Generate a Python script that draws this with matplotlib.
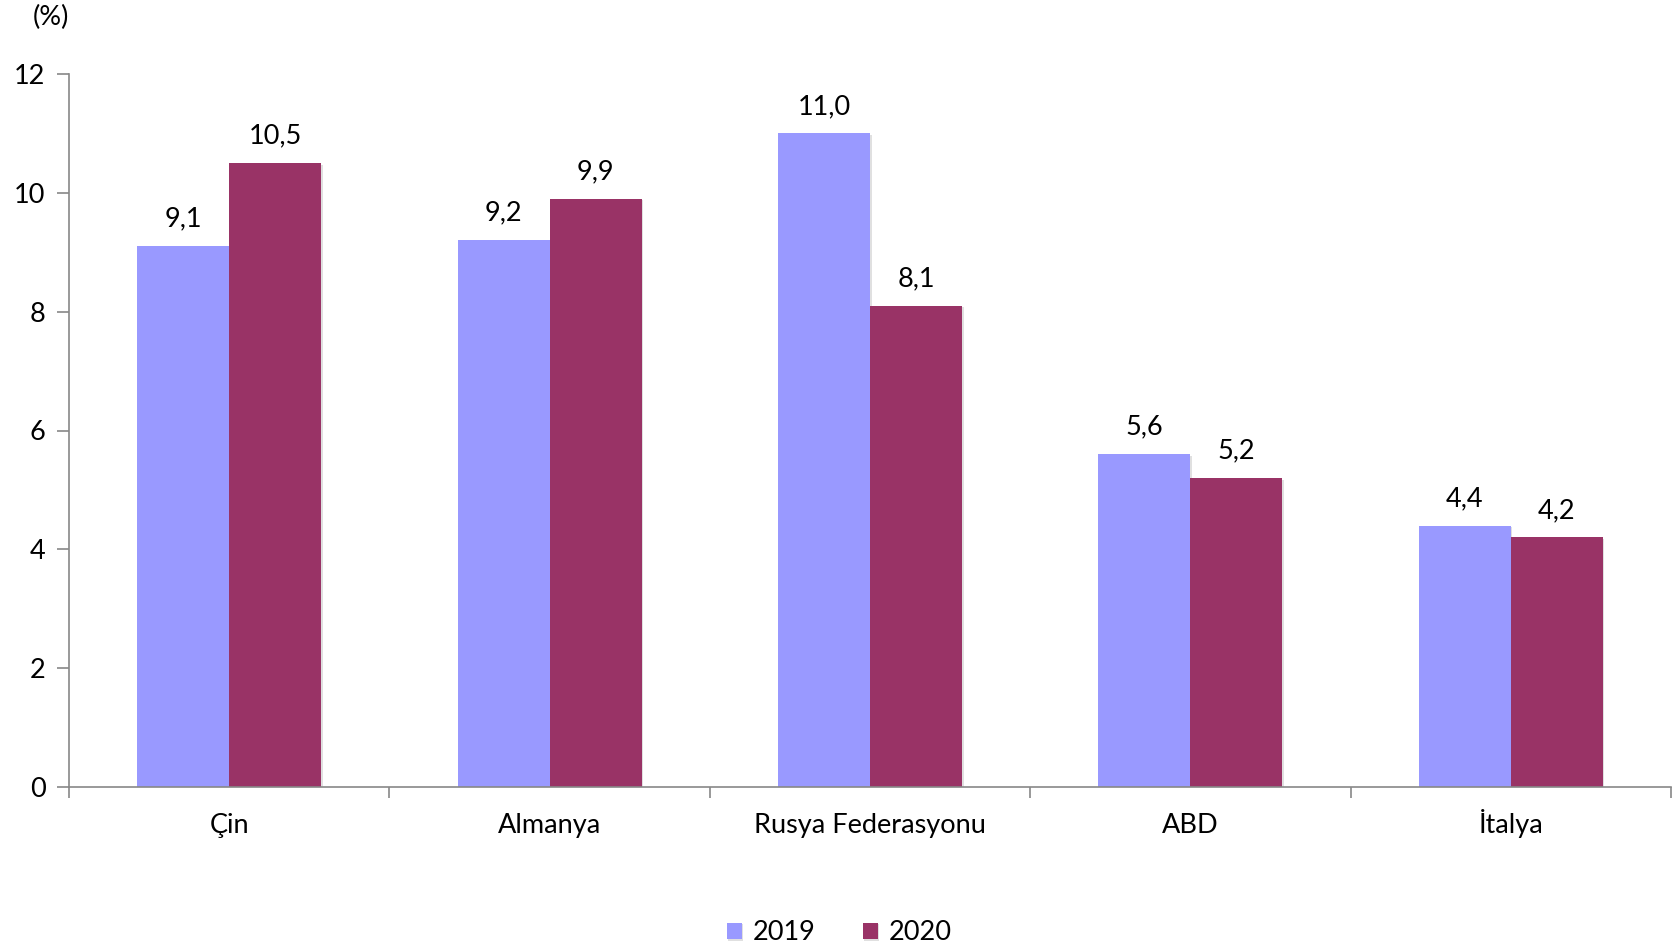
import matplotlib
matplotlib.use("Agg")
import matplotlib.pyplot as plt
import matplotlib.patheffects as pe
import numpy as np

categories = ["Çin", "Almanya", "Rusya Federasyonu", "ABD", "İtalya"]
values_2019 = [9.1, 9.2, 11.0, 5.6, 4.4]
values_2020 = [10.5, 9.9, 8.1, 5.2, 4.2]
series_labels = ["2019", "2020"]
colors = ["#9999FF", "#993366"]
yticks = [0, 2, 4, 6, 8, 10, 12]

plt.rcParams['font.family'] = ['Lato', 'DejaVu Sans']
FS = 19.5

fig = plt.figure(figsize=(16.74, 9.48), dpi=100)
ax = fig.add_axes([69/1674, 1-787/948, (1671-69)/1674, (787-74)/948])

x = np.arange(len(categories))
w = 0.287
shadow = [pe.SimplePatchShadow(offset=(1.2, -1.2), shadow_rgbFace="#000000", alpha=0.12), pe.Normal()]
b1 = ax.bar(x - w/2, values_2019, w, color=colors[0], label=series_labels[0], zorder=2)
b2 = ax.bar(x + w/2, values_2020, w, color=colors[1], label=series_labels[1], zorder=2)
for bars in (b1, b2):
    for p in bars:
        p.set_path_effects(shadow)

for xs, vals in ((x - w/2, values_2019), (x + w/2, values_2020)):
    for xi, v in zip(xs, vals):
        ax.annotate(f"{v:.1f}".replace(".", ","), (xi, v), xytext=(0, 10.5), textcoords="offset points",
                    ha="center", va="bottom", fontsize=FS, color="black")

ax.set_xlim(-0.5, len(categories) - 0.5)
ax.set_ylim(0, 12)
ax.set_yticks(yticks)
ax.set_yticklabels([str(t) for t in yticks], fontsize=FS)
ax.set_xticks(x)
ax.set_xticklabels(categories, fontsize=FS, va="baseline")
ax.tick_params(axis="x", length=0, pad=33)
ax.set_xticks(np.arange(len(categories) + 1) - 0.5, minor=True)
ax.tick_params(axis="x", which="minor", length=8, color="#888888", width=1.2)
ax.tick_params(axis="y", length=9, color="#888888", width=1.2, pad=8)

for s in ("top", "right"):
    ax.spines[s].set_visible(False)
for s in ("left", "bottom"):
    ax.spines[s].set_color("#888888")
    ax.spines[s].set_linewidth(1.2)

fig.text(51/1674, 1-17/948, "(%)", ha="center", va="center", fontsize=FS)

leg = fig.legend(handles=[b1, b2], labels=series_labels, loc="center", bbox_to_anchor=(839/1674, 1-933/948),
                 ncol=2, frameon=False, fontsize=FS, handlelength=0.55, handleheight=0.55,
                 columnspacing=1.75, handletextpad=0.4)

fig.savefig("out.png", dpi=100)
